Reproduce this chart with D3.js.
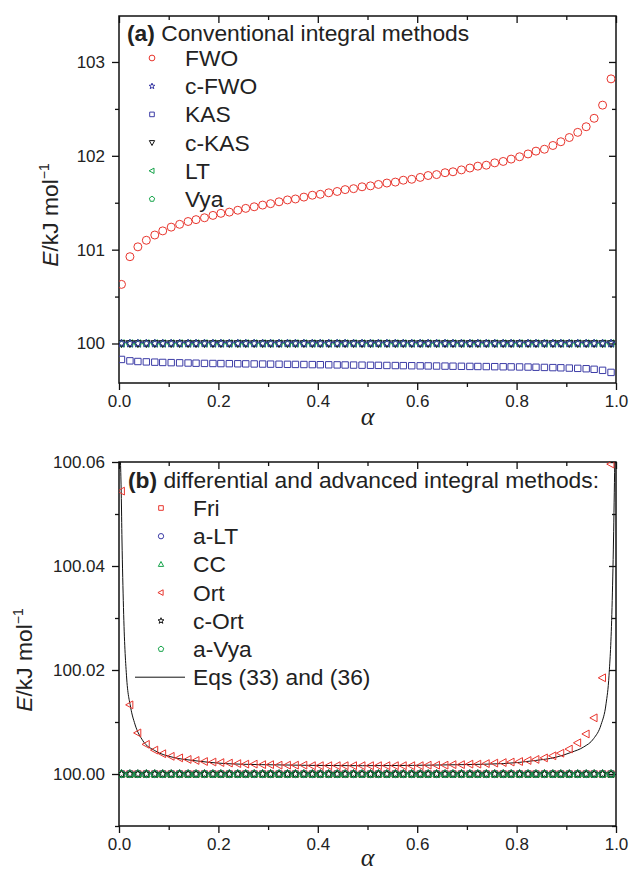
<!DOCTYPE html>
<html>
<head>
<meta charset="utf-8">
<script src="https://cdn.jsdelivr.net/npm/d3@7"></script>
<style>
  html, body { margin: 0; padding: 0; background: #fff; }
  svg { display: block; font-family: "Liberation Sans", Arial, Helvetica, sans-serif; }
</style>
</head>
<body>
<svg id="fig" width="632" height="874"></svg>
<script>
// Conversion degree grid shared by every series
const alpha = [
  0.005, 0.022, 0.038, 0.055, 0.072, 0.088, 0.105, 0.122, 0.139, 0.155,
  0.172, 0.189, 0.205, 0.222, 0.239, 0.255, 0.272, 0.289, 0.305, 0.322,
  0.339, 0.355, 0.372, 0.389, 0.405, 0.422, 0.439, 0.455, 0.472, 0.489,
  0.506, 0.522, 0.539, 0.556, 0.572, 0.589, 0.606, 0.622, 0.639, 0.656,
  0.672, 0.689, 0.706, 0.722, 0.739, 0.756, 0.773, 0.789, 0.806, 0.823,
  0.839, 0.856, 0.873, 0.889, 0.906, 0.923, 0.940, 0.956, 0.973, 0.990
];

// (a) conventional integral methods, E in kJ/mol
const eFWO = [
  100.630, 100.925, 101.030, 101.100, 101.156, 101.200, 101.240, 101.270, 101.300, 101.320,
  101.340, 101.365, 101.387, 101.400, 101.420, 101.440, 101.457, 101.475, 101.490, 101.510,
  101.530, 101.540, 101.560, 101.580, 101.590, 101.606, 101.620, 101.640, 101.650, 101.670,
  101.680, 101.695, 101.710, 101.720, 101.740, 101.750, 101.770, 101.790, 101.800, 101.820,
  101.830, 101.850, 101.870, 101.890, 101.900, 101.925, 101.940, 101.965, 101.990, 102.020,
  102.050, 102.070, 102.110, 102.150, 102.195, 102.250, 102.310, 102.400, 102.540, 102.820
];
const eKAS = [
  99.830, 99.815, 99.808, 99.804, 99.801, 99.798, 99.796, 99.794, 99.792, 99.790,
  99.788, 99.787, 99.786, 99.785, 99.784, 99.783, 99.782, 99.781, 99.780, 99.779,
  99.778, 99.777, 99.776, 99.775, 99.774, 99.773, 99.772, 99.771, 99.770, 99.769,
  99.768, 99.767, 99.766, 99.765, 99.764, 99.763, 99.762, 99.761, 99.760, 99.759,
  99.758, 99.757, 99.756, 99.755, 99.754, 99.753, 99.752, 99.751, 99.750, 99.749,
  99.747, 99.745, 99.743, 99.741, 99.738, 99.735, 99.731, 99.725, 99.714, 99.692
];
// Methods that recover the true activation energy at every point
const eExact = [
  100, 100, 100, 100, 100, 100, 100, 100, 100, 100,
  100, 100, 100, 100, 100, 100, 100, 100, 100, 100,
  100, 100, 100, 100, 100, 100, 100, 100, 100, 100,
  100, 100, 100, 100, 100, 100, 100, 100, 100, 100,
  100, 100, 100, 100, 100, 100, 100, 100, 100, 100,
  100, 100, 100, 100, 100, 100, 100, 100, 100, 100
];
const eCFWO = eExact, eCKAS = eExact, eLT = eExact, eVya = eExact;

// (b) differential and advanced integral methods
const eOrt = [
  100.0544, 100.0133, 100.0079, 100.0057, 100.0046, 100.0039, 100.0034, 100.0031, 100.0028, 100.0026,
  100.0024, 100.0023, 100.0022, 100.0021, 100.0020, 100.0019, 100.0019, 100.0018, 100.0018, 100.0017,
  100.0017, 100.0017, 100.0017, 100.0016, 100.0016, 100.0016, 100.0016, 100.0016, 100.0016, 100.0016,
  100.0016, 100.0016, 100.0016, 100.0016, 100.0016, 100.0016, 100.0016, 100.0017, 100.0017, 100.0017,
  100.0018, 100.0018, 100.0019, 100.0019, 100.0020, 100.0021, 100.0022, 100.0023, 100.0024, 100.0026,
  100.0028, 100.0031, 100.0035, 100.0040, 100.0048, 100.0060, 100.0077, 100.0108, 100.0185, 100.0596
];
const eFri = eExact, eALT = eExact, eCC = eExact, eCOrt = eExact, eAVya = eExact;

// Eqs (33) and (36): theoretical curve
const eqAlpha = [0.0030, 0.0045, 0.0060, 0.0090, 0.0150, 0.0235, 0.0320, 0.0480, 0.0720, 0.1090,
                 0.1490, 0.2140, 0.2870, 0.4900, 0.6900, 0.7730, 0.8380, 0.8780, 0.9110, 0.9350,
                 0.9550, 0.9700, 0.9800, 0.9860, 0.9920, 0.9950, 0.9975];
const eqE = [100.0600, 100.0540, 100.0450, 100.0320, 100.0190, 100.0128, 100.0096, 100.0064, 100.0045, 100.0032,
             100.0026, 100.0020, 100.0018, 100.0016, 100.0018, 100.0020, 100.0026, 100.0032, 100.0042, 100.0052,
             100.0068, 100.0095, 100.0135, 100.0190, 100.0320, 100.0450, 100.0600];

// Tick values
const xMajor = [0, 0.2, 0.4, 0.6, 0.8, 1.0];
const xMinor = [0.1, 0.3, 0.5, 0.7, 0.9];
const yMajorA = [100, 101, 102, 103];
const yMinorA = [100.5, 101.5, 102.5];
const yMajorB = [100.00, 100.02, 100.04, 100.06];
const yMinorB = [99.99, 100.01, 100.03, 100.05];

const RED = "#e8352d", BLUE = "#3c3ca6", GREEN = "#16a34a", BLACK = "#111";
const LABEL_SIZE = "22.8px", TICK_SIZE = "17px";

// ---- marker shapes (s = half size) ----
function poly(pts) { return "M" + pts.map(p => p[0].toFixed(2) + "," + p[1].toFixed(2)).join("L") + "Z"; }
function shape(type, s) {
  switch (type) {
    case "circle": return `M${s},0A${s},${s},0,1,1,${-s},0A${s},${s},0,1,1,${s},0Z`;
    case "square": return poly([[-s, -s], [s, -s], [s, s], [-s, s]]);
    case "up": return poly([[0, -s * 1.1], [s, s * 0.75], [-s, s * 0.75]]);
    case "down": return poly([[0, s * 1.1], [s, -s * 0.75], [-s, -s * 0.75]]);
    case "left": return poly([[-s * 1.1, 0], [s * 0.75, -s], [s * 0.75, s]]);
    case "pentagon": return poly(d3.range(5).map(k => {
      const a = -Math.PI / 2 + k * 2 * Math.PI / 5; return [s * Math.cos(a), s * Math.sin(a)];
    }));
    case "star": return poly(d3.range(10).map(k => {
      const a = -Math.PI / 2 + k * Math.PI / 5, r = k % 2 ? s * 0.45 : s * 1.1;
      return [r * Math.cos(a), r * Math.sin(a)];
    }));
  }
}

const svg = d3.select("#fig");
const X0 = 119, X1 = 616;

function panel(cfg) {
  const x = d3.scaleLinear().domain([0, 1]).range([X0, X1]);
  const y = d3.scaleLinear().domain(cfg.yDomain).range([cfg.bottom, cfg.top]);
  const g = svg.append("g");
  const clipId = "clip-" + cfg.id;
  g.append("clipPath").attr("id", clipId).append("rect")
    .attr("x", X0).attr("y", cfg.top).attr("width", X1 - X0).attr("height", cfg.bottom - cfg.top);

  const tickStyle = sel => {
    sel.select(".domain").remove();
    sel.selectAll("line").attr("stroke", "#111").attr("stroke-width", 1.3);
    sel.selectAll("text").attr("fill", "#222").style("font-size", TICK_SIZE)
      .style("font-family", '"Liberation Sans", Arial, sans-serif');
  };
  // bottom (outward)
  g.append("g").attr("transform", `translate(0,${cfg.bottom})`)
    .call(d3.axisBottom(x).tickValues(xMajor).tickSize(7).tickPadding(5).tickFormat(d3.format(".1f"))).call(tickStyle);
  g.append("g").attr("transform", `translate(0,${cfg.bottom})`)
    .call(d3.axisBottom(x).tickValues(xMinor).tickSize(4).tickFormat("")).call(tickStyle);
  // top (inward)
  g.append("g").attr("transform", `translate(0,${cfg.top})`)
    .call(d3.axisTop(x).tickValues(xMajor).tickSize(-7).tickFormat("")).call(tickStyle);
  g.append("g").attr("transform", `translate(0,${cfg.top})`)
    .call(d3.axisTop(x).tickValues(xMinor).tickSize(-4).tickFormat("")).call(tickStyle);
  // left (outward)
  g.append("g").attr("transform", `translate(${X0},0)`)
    .call(d3.axisLeft(y).tickValues(cfg.yMajor).tickSize(7).tickPadding(7).tickFormat(cfg.yFormat)).call(tickStyle);
  g.append("g").attr("transform", `translate(${X0},0)`)
    .call(d3.axisLeft(y).tickValues(cfg.yMinor).tickSize(4).tickFormat("")).call(tickStyle);
  // right (inward)
  g.append("g").attr("transform", `translate(${X1},0)`)
    .call(d3.axisRight(y).tickValues(cfg.yMajor).tickSize(-7).tickFormat("")).call(tickStyle);
  g.append("g").attr("transform", `translate(${X1},0)`)
    .call(d3.axisRight(y).tickValues(cfg.yMinor).tickSize(-4).tickFormat("")).call(tickStyle);

  // frame
  g.append("rect").attr("x", X0).attr("y", cfg.top).attr("width", X1 - X0).attr("height", cfg.bottom - cfg.top)
    .attr("fill", "none").attr("stroke", "#111").attr("stroke-width", 1.5);

  const plot = g.append("g").attr("clip-path", `url(#${clipId})`);

  // theoretical line
  if (cfg.line) {
    plot.append("path").datum(d3.zip(cfg.line.xs, cfg.line.ys))
      .attr("fill", "none").attr("stroke", "#111").attr("stroke-width", 1)
      .attr("d", d3.line().x(d => x(d[0])).y(d => y(d[1])).curve(d3.curveMonotoneX));
  }
  // markers
  cfg.series.forEach(s => {
    plot.append("g").selectAll("path").data(d3.zip(alpha, s.values)).join("path")
      .attr("transform", d => `translate(${x(d[0])},${y(d[1])})`)
      .attr("d", shape(s.shape, s.size))
      .attr("fill", "none").attr("stroke", s.color).attr("stroke-width", 1);
  });

  // legend
  const lg = g.append("g");
  const title = lg.append("text").attr("x", cfg.legend.x).attr("y", cfg.legend.titleY)
    .style("font-size", LABEL_SIZE).attr("fill", "#222");
  title.append("tspan").attr("font-weight", "bold").text(cfg.legend.tag);
  title.append("tspan").text(" " + cfg.legend.title);
  const rows = cfg.series.slice().sort((a, b) => a.order - b.order);
  rows.forEach((s, i) => {
    const cy = cfg.legend.firstY + i * cfg.legend.step;
    lg.append("path").attr("transform", `translate(${cfg.legend.symX},${cy})`)
      .attr("d", shape(s.shape, s.size * 0.72)).attr("fill", "none").attr("stroke", s.color).attr("stroke-width", 1);
    lg.append("text").attr("x", cfg.legend.textX).attr("y", cy + 8).style("font-size", LABEL_SIZE).attr("fill", "#222").text(s.name);
  });
  if (cfg.line) {
    const cy = cfg.legend.firstY + rows.length * cfg.legend.step;
    lg.append("line").attr("x1", cfg.legend.lineX0).attr("x2", cfg.legend.lineX1).attr("y1", cy).attr("y2", cy)
      .attr("stroke", "#111").attr("stroke-width", 1);
    lg.append("text").attr("x", cfg.legend.textX).attr("y", cy + 8).style("font-size", LABEL_SIZE).attr("fill", "#222").text(cfg.line.name);
  }

  // axis titles
  const yl = g.append("text").attr("transform", `translate(${cfg.yLabelX},${cfg.yLabelY}) rotate(-90)`)
    .attr("text-anchor", "middle").style("font-size", LABEL_SIZE).attr("fill", "#222");
  yl.append("tspan").attr("font-style", "italic").text("E");
  yl.append("tspan").text("/kJ mol");
  yl.append("tspan").attr("dy", -9).style("font-size", "14px").text("\u22121");
  g.append("text").attr("x", (X0 + X1) / 2).attr("y", cfg.xLabelY).attr("text-anchor", "middle")
    .style("font-family", '"Liberation Serif", "Times New Roman", serif').style("font-style", "italic")
    .style("font-size", "26px").attr("fill", "#222").text("\u03b1");
}

panel({
  id: "a", top: 16, bottom: 383, yDomain: [99.579, 103.49],
  yMajor: yMajorA, yMinor: yMinorA, yFormat: d3.format("d"),
  yLabelX: 58, yLabelY: 215, xLabelY: 425,
  series: [
    { name: "FWO", values: eFWO, shape: "circle", color: RED, size: 4, order: 0 },
    { name: "KAS", values: eKAS, shape: "square", color: BLUE, size: 3.2, order: 2 },
    { name: "Vya", values: eVya, shape: "pentagon", color: GREEN, size: 3.9, order: 5 },
    { name: "LT", values: eLT, shape: "left", color: GREEN, size: 3.7, order: 4 },
    { name: "c-KAS", values: eCKAS, shape: "down", color: BLACK, size: 3.7, order: 3 },
    { name: "c-FWO", values: eCFWO, shape: "star", color: BLUE, size: 3.9, order: 1 }
  ],
  legend: { x: 127, titleY: 41, tag: "(a)", title: "Conventional integral methods",
            symX: 152, textX: 185, firstY: 58, step: 28.2 }
});

panel({
  id: "b", top: 462, bottom: 826, yDomain: [99.99, 100.06],
  yMajor: yMajorB, yMinor: yMinorB, yFormat: d3.format(".2f"),
  yLabelX: 32, yLabelY: 660, xLabelY: 866,
  line: { xs: eqAlpha, ys: eqE, name: "Eqs (33) and (36)" },
  series: [
    { name: "Fri", values: eFri, shape: "square", color: RED, size: 3.2, order: 0 },
    { name: "a-LT", values: eALT, shape: "circle", color: BLUE, size: 3.7, order: 1 },
    { name: "CC", values: eCC, shape: "up", color: GREEN, size: 3.7, order: 2 },
    { name: "Ort", values: eOrt, shape: "left", color: RED, size: 3.9, order: 3 },
    { name: "c-Ort", values: eCOrt, shape: "star", color: BLACK, size: 3.9, order: 4 },
    { name: "a-Vya", values: eAVya, shape: "pentagon", color: GREEN, size: 4, order: 5 }
  ],
  legend: { x: 128, titleY: 488, tag: "(b)", title: "differential and advanced integral methods:",
            symX: 161, textX: 193, firstY: 508, step: 28.2, lineX0: 135, lineX1: 185 }
});
</script>
</body>
</html>
